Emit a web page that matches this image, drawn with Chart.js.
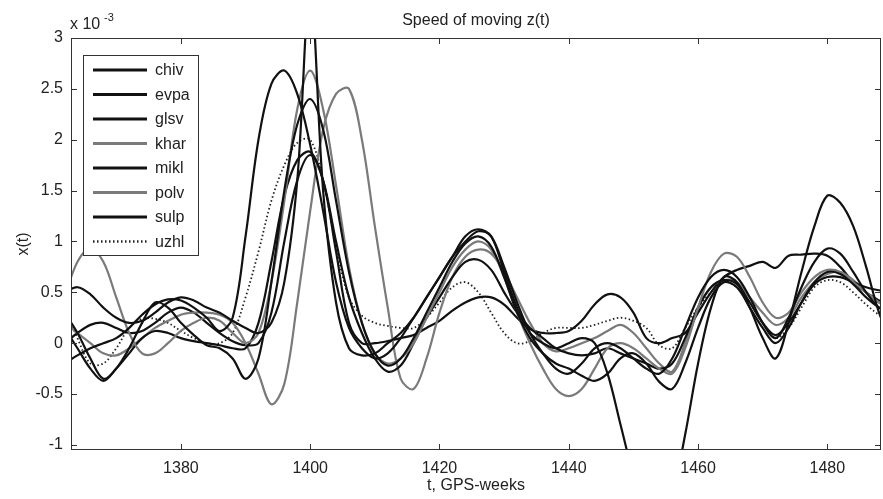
<!DOCTYPE html>
<html>
<head>
<meta charset="utf-8">
<script src="https://cdn.jsdelivr.net/npm/chart.js@4.4.0/dist/chart.umd.min.js"></script>
<style>
  html, body { margin: 0; padding: 0; background: #fff; }
  #wrap { width: 883px; height: 499px; }
</style>
</head>
<body>
<div id="wrap"><canvas id="myChart" width="883" height="499"></canvas></div>
<script>
var ctx = document.getElementById('myChart');

// GPS weeks, every 2 weeks
var weeks = [];
for (var w = 1362; w <= 1490; w += 2) weeks.push(w);

var xTicks = [1380, 1400, 1420, 1440, 1460, 1480];
var yTicks = [-1, -0.5, 0, 0.5, 1, 1.5, 2, 2.5, 3];

// values in units of 1e-3
var chiv = [-0.2, -0.12, -0.05, 0.0, 0.05, 0.15, 0.28, 0.38, 0.43, 0.42, 0.35, 0.25, 0.12, 0.25, 1.05, 2.0,
  2.55, 2.68, 2.45, 1.95, 1.3, 0.6, 0.15, -0.05, -0.15, -0.1, 0.05, 0.25, 0.45, 0.65, 0.85, 1.05,
  1.12, 1.05, 0.75, 0.4, 0.1, -0.1, -0.25, -0.3, -0.2, -0.05, 0.0, -0.05, -0.15, -0.25, -0.3, -0.15,
  0.15, 0.45, 0.65, 0.72, 0.65, 0.45, 0.2, 0.05, 0.25, 0.55, 0.8, 0.93, 0.88, 0.7, 0.5, 0.35, 0.3];
var evpa = [0.5, 0.55, 0.48, 0.35, 0.25, 0.2, 0.22, 0.3, 0.4, 0.45, 0.42, 0.35, 0.3, 0.22, 0.15, 0.1,
  0.2, 0.6, 1.6, 3.5, 1.5, 0.4, -0.05, -0.12, -0.1, 0.0, 0.1, 0.25, 0.45, 0.65, 0.85, 1.0,
  1.1, 1.05, 0.7, 0.35, 0.1, 0.0, -0.05, 0.0, 0.05, 0.0, -0.3, -0.8, -1.3, -1.7, -1.8, -1.5,
  -0.9, -0.2, 0.35, 0.65, 0.6, 0.35, 0.05, -0.15, 0.2, 0.7, 1.15, 1.45, 1.38, 1.15, 0.75, 0.3, 0.0];
var glsv = [0.3, 0.1, -0.15, -0.35, -0.25, -0.05, 0.2, 0.4, 0.35, 0.2, 0.08, -0.02, -0.05, -0.15, -0.35, -0.15,
  0.6, 1.5, 2.15, 2.4, 2.1, 1.4, 0.7, 0.2, -0.1, -0.22, -0.15, 0.05, 0.3, 0.55, 0.8, 0.98,
  1.05, 0.95, 0.65, 0.3, 0.05, -0.1, -0.2, -0.25, -0.32, -0.37, -0.3, -0.15, -0.1, -0.2, -0.38, -0.45,
  -0.2, 0.15, 0.45, 0.6, 0.55, 0.35, 0.15, 0.0, 0.15, 0.4, 0.6, 0.7, 0.68, 0.58, 0.45, 0.35, 0.3];
var khar = [0.45, 0.8, 0.93, 0.8, 0.45, 0.1, -0.1, -0.1, 0.0, 0.12, 0.2, 0.25, 0.22, 0.1, 0.0, 0.1,
  0.6, 1.4, 2.3, 2.68, 2.3, 1.55, 0.75, 0.2, -0.1, -0.2, -0.15, 0.0, 0.25, 0.5, 0.75, 0.92,
  1.0, 0.92, 0.65, 0.3, 0.0, -0.25, -0.45, -0.52, -0.45, -0.25, -0.05, 0.0, -0.05, -0.15, -0.25, -0.3,
  -0.05, 0.35, 0.7, 0.88, 0.85, 0.65, 0.4, 0.25, 0.3, 0.5, 0.65, 0.72, 0.7, 0.6, 0.5, 0.4, 0.35];
var mikl = [0.15, -0.05, -0.25, -0.37, -0.25, -0.1, 0.05, 0.12, 0.1, 0.05, 0.02, 0.0, -0.02, -0.05, -0.05, 0.2,
  0.8, 1.45, 1.8, 1.88, 1.6, 1.0, 0.45, 0.1, -0.15, -0.28, -0.22, 0.0, 0.25, 0.45, 0.65, 0.8,
  0.82, 0.72, 0.5, 0.3, 0.15, 0.05, -0.05, -0.1, -0.12, -0.1, -0.05, -0.1, -0.15, -0.2, -0.25, -0.2,
  0.05, 0.35, 0.55, 0.62, 0.58, 0.4, 0.2, 0.08, 0.2, 0.4, 0.58, 0.65, 0.65, 0.6, 0.55, 0.52, 0.5];
var polv = [0.2, 0.1, 0.0, -0.1, -0.12, -0.05, 0.05, 0.15, 0.22, 0.28, 0.3, 0.3, 0.28, 0.2, 0.0, -0.3,
  -0.6, -0.4, 0.4, 1.3, 2.1, 2.45, 2.5, 2.0, 1.15, 0.35, -0.35, -0.45, -0.15, 0.3, 0.65, 0.85,
  0.92, 0.88, 0.7, 0.45, 0.2, 0.0, -0.08, -0.05, 0.0, 0.05, 0.12, 0.18, 0.1, -0.05, -0.2, -0.28,
  0.0, 0.35, 0.55, 0.62, 0.6, 0.45, 0.3, 0.18, 0.25, 0.45, 0.6, 0.68, 0.7, 0.62, 0.5, 0.4, 0.35];
var sulp = [0.0, 0.1, 0.18, 0.2, 0.15, 0.1, 0.12, 0.2, 0.3, 0.35, 0.3, 0.2, 0.1, 0.02, -0.02, 0.0,
  0.3, 1.0, 1.6, 1.85, 1.6, 0.9, 0.2, 0.0, 0.0, 0.02, 0.05, 0.08, 0.15, 0.22, 0.32, 0.4,
  0.45, 0.45, 0.38, 0.25, 0.14, 0.1, 0.1, 0.12, 0.22, 0.38, 0.48, 0.45, 0.3, 0.05, 0.0, 0.05,
  0.1, 0.3, 0.5, 0.65, 0.72, 0.76, 0.8, 0.74, 0.86, 0.87, 0.88, 0.86, 0.75, 0.6, 0.5, 0.42, 0.35];
var uzhl = [0.38, 0.05, -0.2, -0.2, -0.05, 0.15, 0.24, 0.24, 0.2, 0.12, 0.05, 0.0, 0.0, 0.1, 0.45, 0.9,
  1.4, 1.75, 1.97, 2.0, 1.6, 0.95, 0.45, 0.27, 0.2, 0.17, 0.15, 0.15, 0.25, 0.4, 0.55, 0.6,
  0.5, 0.3, 0.1, 0.0, 0.02, 0.1, 0.15, 0.15, 0.15, 0.18, 0.22, 0.25, 0.22, 0.15, -0.02, -0.05,
  0.15, 0.35, 0.5, 0.6, 0.55, 0.4, 0.2, 0.05, 0.15, 0.35, 0.55, 0.62, 0.6, 0.5, 0.38, 0.28, 0.22];

var names = ['chiv', 'evpa', 'glsv', 'khar', 'mikl', 'polv', 'sulp', 'uzhl'];
var series = [chiv, evpa, glsv, khar, mikl, polv, sulp, uzhl];
var colors = ['#111', '#111', '#111', '#7a7a7a', '#111', '#7a7a7a', '#111', '#222'];

function pts(vals) {
  return weeks.map(function (w, i) { return { x: w, y: vals[i] }; });
}

var datasets = names.map(function (n, i) {
  var dotted = n === 'uzhl';
  return {
    label: n,
    data: pts(series[i]),
    borderColor: colors[i],
    borderWidth: dotted ? 1.8 : 2.2,
    borderDash: dotted ? [1.5, 2.5] : [],
    pointRadius: 0,
    tension: 0.35,
    clip: 0
  };
});

var FONT = '"Liberation Sans", Arial, sans-serif';

var decor = {
  id: 'decor',
  afterDraw: function (chart) {
    var c = chart.ctx, a = chart.chartArea;
    var xs = chart.scales.x, ys = chart.scales.y;
    c.save();
    // box
    c.strokeStyle = '#333';
    c.lineWidth = 1;
    c.strokeRect(a.left + 0.5, a.top + 0.5, a.right - a.left - 1, a.bottom - a.top - 1);
    // inward ticks
    c.beginPath();
    xTicks.forEach(function (t) {
      var px = Math.round(xs.getPixelForValue(t)) + 0.5;
      c.moveTo(px, a.bottom); c.lineTo(px, a.bottom - 6);
      c.moveTo(px, a.top); c.lineTo(px, a.top + 6);
    });
    yTicks.forEach(function (t) {
      var py = Math.round(ys.getPixelForValue(t)) + 0.5;
      c.moveTo(a.left, py); c.lineTo(a.left + 6, py);
      c.moveTo(a.right, py); c.lineTo(a.right - 6, py);
    });
    c.stroke();

    // texts
    c.fillStyle = '#222';
    c.font = '16px ' + FONT;
    c.textAlign = 'center';
    c.textBaseline = 'middle';
    c.fillText('Speed of moving z(t)', (a.left + a.right) / 2, 21);
    c.fillText('t, GPS-weeks', (a.left + a.right) / 2, 486);
    c.save();
    c.translate(24, (a.top + a.bottom) / 2);
    c.rotate(-Math.PI / 2);
    c.fillText('x(t)', 0, 0);
    c.restore();
    c.textAlign = 'left';
    c.fillText('x 10', 70, 25);
    c.font = '11px ' + FONT;
    c.fillText('-3', 104, 18);

    // legend
    var lx = 83, ly = 55, lw = 115, lh = 200;
    c.fillStyle = '#fff';
    c.fillRect(lx, ly, lw, lh);
    c.strokeStyle = '#333';
    c.lineWidth = 1;
    c.strokeRect(lx + 0.5, ly + 0.5, lw, lh);
    c.font = '16px ' + FONT;
    c.textAlign = 'left';
    chart.data.datasets.forEach(function (ds, i) {
      var y = 70 + i * 24.5;
      c.strokeStyle = ds.borderColor;
      c.lineWidth = ds.borderWidth + 0.6;
      c.setLineDash(ds.borderDash);
      c.beginPath();
      c.moveTo(93, y); c.lineTo(147, y);
      c.stroke();
      c.setLineDash([]);
      c.fillStyle = '#222';
      c.fillText(ds.label, 155, y + 1);
    });
    c.restore();
  }
};

function plainLabel(v) { return String(v); }

var chartOptions = {
  responsive: false,
  animation: false,
  layout: { padding: { top: 38, right: 2, left: 0, bottom: 0 } },
  plugins: {
    legend: { display: false },
    title: { display: false },
    tooltip: { enabled: false }
  },
  scales: {
    x: {
      type: 'linear',
      min: 1363,
      max: 1488.3,
      grid: { display: false, drawTicks: false },
      border: { display: false },
      afterBuildTicks: function (s) { s.ticks = xTicks.map(function (v) { return { value: v }; }); },
      afterFit: function (s) { s.height = 49; },
      ticks: { padding: 9, color: '#222', font: { size: 16, family: FONT }, maxRotation: 0, callback: plainLabel }
    },
    y: {
      min: -1.05,
      max: 3,
      grid: { display: false, drawTicks: false },
      border: { display: false },
      afterBuildTicks: function (s) { s.ticks = yTicks.map(function (v) { return { value: v }; }); },
      afterFit: function (s) { s.width = 71; },
      ticks: { padding: 8, color: '#222', font: { size: 16, family: FONT }, callback: plainLabel }
    }
  }
};

var lineChart = new Chart(ctx, {
  type: 'line',
  data: { datasets: datasets },
  options: chartOptions,
  plugins: [decor]
});
</script>
</body>
</html>
